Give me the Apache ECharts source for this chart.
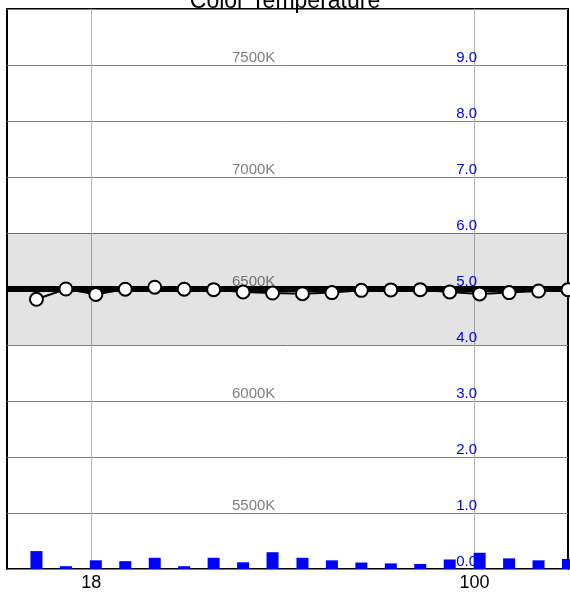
<!DOCTYPE html>
<html>
<head>
<meta charset="utf-8">
<script src="https://cdn.jsdelivr.net/npm/echarts@6/dist/echarts.min.js"></script>
<style>
html,body{margin:0;padding:0;background:#fff;}
#chart{width:570px;height:592px;}
</style>
</head>
<body>
<div id="chart"></div>
<script>
// ---- data ----
const titleText = 'Color Temperature';
const xPositions = [6.3, 12.6, 19.0, 25.3, 31.6, 37.9, 44.2, 50.5, 56.8, 63.2, 69.5, 75.8, 82.1, 88.4, 94.7, 101.1, 107.4, 113.7, 120];
const colorTempK = [6454, 6500, 6476, 6499, 6508, 6499, 6497, 6487, 6482, 6479, 6484, 6494, 6496, 6497, 6487, 6478, 6484, 6491, 6497];
const barValues = [0.32, 0.05, 0.155, 0.14, 0.2, 0.05, 0.2, 0.12, 0.3, 0.2, 0.155, 0.115, 0.1, 0.09, 0.17, 0.29, 0.19, 0.155, 0.18];
const xTickValues = [18, 100];
const targetValue = 5.0;
const bandRange = [4.0, 6.0];

const chart = echarts.init(document.getElementById('chart'), null, {renderer: 'canvas'});
const FONT = 'Liberation Sans, Arial, sans-serif';

const lineData = xPositions.map((x, i) => [x, colorTempK[i]]);
const barData = xPositions.map((x, i) => [x, barValues[i]]);

chart.setOption({
  animation: false,
  backgroundColor: '#ffffff',
  title: {
    text: titleText,
    left: 'center',
    top: -15,
    textStyle: {fontFamily: FONT, fontSize: 23, fontWeight: 'normal', color: '#000'}
  },
  grid: {
    left: 7, right: 2, top: 9, bottom: 23,
    show: true, borderColor: '#000', borderWidth: 2, backgroundColor: 'transparent'
  },
  xAxis: {
    type: 'value', min: 0, max: 120,
    axisLine: {show: false},
    axisTick: {show: false, customValues: xTickValues},
    axisLabel: {customValues: xTickValues, fontFamily: FONT, fontSize: 18, color: '#000', margin: 5},
    splitLine: {show: true, lineStyle: {color: '#b4b4b4', width: 1}}
  },
  yAxis: [
    {
      type: 'value', position: 'left', min: 5250, max: 7750, interval: 250,
      axisLine: {show: false}, axisTick: {show: false},
      splitLine: {show: false},
      axisLabel: {
        inside: true, margin: 225, verticalAlign: 'bottom',
        fontFamily: FONT, fontSize: 15, color: '#808080',
        formatter: v => (v % 500 === 0 ? v + 'K' : '')
      }
    },
    {
      type: 'value', position: 'right', min: 0, max: 10, interval: 1,
      axisLine: {show: false}, axisTick: {show: false},
      splitLine: {show: true, lineStyle: {color: '#808080', width: 1}},
      axisLabel: {
        inside: true, margin: 91, verticalAlign: 'bottom',
        fontFamily: FONT, fontSize: 15, color: '#0000ff',
        formatter: v => (v >= 10 ? '' : v.toFixed(1))
      }
    }
  ],
  series: [
    {
      type: 'line', yAxisIndex: 1, data: [], silent: true,
      markArea: {
        silent: true,
        itemStyle: {color: 'rgba(0,0,0,0.11)'},
        data: [[{yAxis: bandRange[0]}, {yAxis: bandRange[1]}]]
      },
      markLine: {
        silent: true, symbol: ['none', 'none'],
        label: {show: false},
        lineStyle: {color: '#000', width: 6, type: 'solid'},
        data: [{yAxis: targetValue}]
      }
    },
    {
      type: 'bar', yAxisIndex: 1, data: barData, barWidth: 12,
      itemStyle: {color: '#0000ff'}, z: 3
    },
    {
      type: 'line', yAxisIndex: 0, data: lineData, z: 10,
      symbol: 'circle', symbolSize: 13,
      lineStyle: {color: '#000', width: 2},
      itemStyle: {color: '#fff', borderColor: '#000', borderWidth: 2},
      clip: false
    }
  ]
});
</script>
</body>
</html>
